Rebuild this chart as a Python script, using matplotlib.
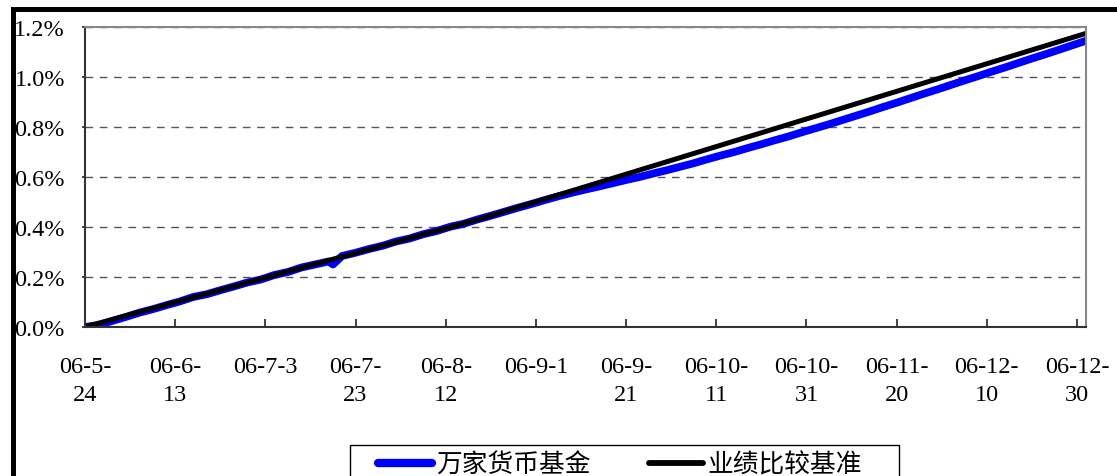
import matplotlib
matplotlib.use("Agg")
import matplotlib.pyplot as plt
from matplotlib.lines import Line2D
from matplotlib.patches import Rectangle
from matplotlib.ticker import FuncFormatter

# days counted from 2006-05-24
tick_days = [0, 20, 40, 60, 80, 100, 120, 140, 160, 180, 200, 220]
tick_labels = ["06-5-\n24", "06-6-\n13", "06-7-3", "06-7-\n23", "06-8-\n12",
               "06-9-1", "06-9-\n21", "06-10-\n11", "06-10-\n31", "06-11-\n20",
               "06-12-\n10", "06-12-\n30"]

# fund cumulative return (%)
fund_days = [0, 3, 6, 9, 12, 15, 18, 21, 24, 27, 30, 33, 36, 39, 42, 45, 48,
             51, 54, 55, 57, 60, 63, 66, 69, 72, 75, 78, 81, 84, 87, 90, 93,
             96, 99, 102, 105, 108, 111, 114, 117, 120, 123, 126, 129, 132,
             135, 138, 141, 144, 147, 150, 153, 156, 159, 162, 165, 168, 171,
             174, 177, 180, 183, 186, 189, 192, 195, 198, 201, 204, 207, 210,
             213, 216, 219, 222]
fund_ret = [0.000, 0.008, 0.024, 0.040, 0.057, 0.071, 0.087, 0.102, 0.120,
            0.131, 0.147, 0.162, 0.178, 0.190, 0.208, 0.220, 0.238, 0.250,
            0.262, 0.250, 0.284, 0.297, 0.312, 0.325, 0.342, 0.354, 0.371,
            0.384, 0.401, 0.413, 0.430, 0.445, 0.461, 0.477, 0.492, 0.508,
            0.523, 0.537, 0.550, 0.562, 0.575, 0.588, 0.600, 0.614, 0.627,
            0.641, 0.655, 0.671, 0.686, 0.700, 0.716, 0.731, 0.747, 0.762,
            0.779, 0.795, 0.811, 0.828, 0.845, 0.862, 0.880, 0.897, 0.915,
            0.933, 0.950, 0.968, 0.986, 1.003, 1.021, 1.038, 1.056, 1.074,
            1.091, 1.109, 1.127, 1.145]

# benchmark cumulative return (%), rate change on 06-8-19
bench_days = [0, 87, 222]
bench_ret = [0.000, 0.429, 1.1745]

fund_name = "万家货币基金"
bench_name = "业绩比较基准"

W, H = 1117, 477
fig = plt.figure(figsize=(W / 100, H / 100), dpi=100)
ax = fig.add_axes([85 / W, 1 - 328 / H, (1086 - 85) / W, 300 / H])

ax.plot(fund_days, fund_ret, color="#0000ff", lw=5.6, solid_capstyle="butt",
        solid_joinstyle="round", zorder=3)
ax.plot(bench_days, bench_ret, color="black", lw=3.6, solid_capstyle="butt",
        zorder=4)

ax.set_xlim(0, 222)
ax.set_ylim(0, 1.2)
ax.set_yticks([0, 0.2, 0.4, 0.6, 0.8, 1.0, 1.2])
ax.yaxis.set_major_formatter(FuncFormatter(lambda v, p: "%.1f%%" % v))
ax.set_xticks(tick_days)
ax.set_xticklabels(tick_labels, linespacing=1.45)

serif = "Liberation Serif"
for lab in ax.get_xticklabels() + ax.get_yticklabels():
    lab.set_fontfamily(serif)
    lab.set_fontsize(17.5)

ax.tick_params(axis="x", direction="in", length=6, width=1.2, pad=21,
               colors="#222222", labelcolor="black")
ax.tick_params(axis="y", direction="out", length=2.5, width=1.2, pad=12,
               colors="#222222", labelcolor="black")

ax.yaxis.grid(True, color="#555555", lw=1.0, linestyle=(0, (5.5, 4.8)))
ax.set_axisbelow(True)

ax.spines["left"].set_color("#333333")
ax.spines["bottom"].set_color("#333333")
ax.spines["top"].set_color("#888888")
ax.spines["right"].set_color("#888888")
for s in ax.spines.values():
    s.set_linewidth(1.5)
    s.set_zorder(5)

# outer frame (left and top parts visible)
fig.add_artist(Line2D([12.5 / W, 12.5 / W], [-0.1, 1 - 9.5 / H], color="black",
                      lw=3.6, transform=fig.transFigure))
fig.add_artist(Line2D([12.5 / W, 1.1], [1 - 9.5 / H, 1 - 9.5 / H], color="black",
                      lw=3.6, transform=fig.transFigure))

# legend box
fig.add_artist(Rectangle((350 / W, -0.1), (899 - 350) / W, 0.1 + 1 - 446 / H,
                         fill=False, edgecolor="black", lw=1.0,
                         transform=fig.transFigure))
handles = [Line2D([], [], color="#0000ff", lw=6.0, solid_capstyle="round"),
           Line2D([], [], color="black", lw=4.2, solid_capstyle="round")]
leg = fig.legend(handles, [fund_name, bench_name], loc="upper left",
                 bbox_to_anchor=(378 / W, 1 - 453 / H), ncol=2, frameon=False,
                 borderpad=0, borderaxespad=0, handlelength=2.1,
                 handletextpad=0.15, columnspacing=2.3,
                 prop={"family": ["Noto Sans CJK SC", "DejaVu Sans"],
                       "size": 18.5})

fig.savefig("out.png", dpi=100, facecolor="white")
